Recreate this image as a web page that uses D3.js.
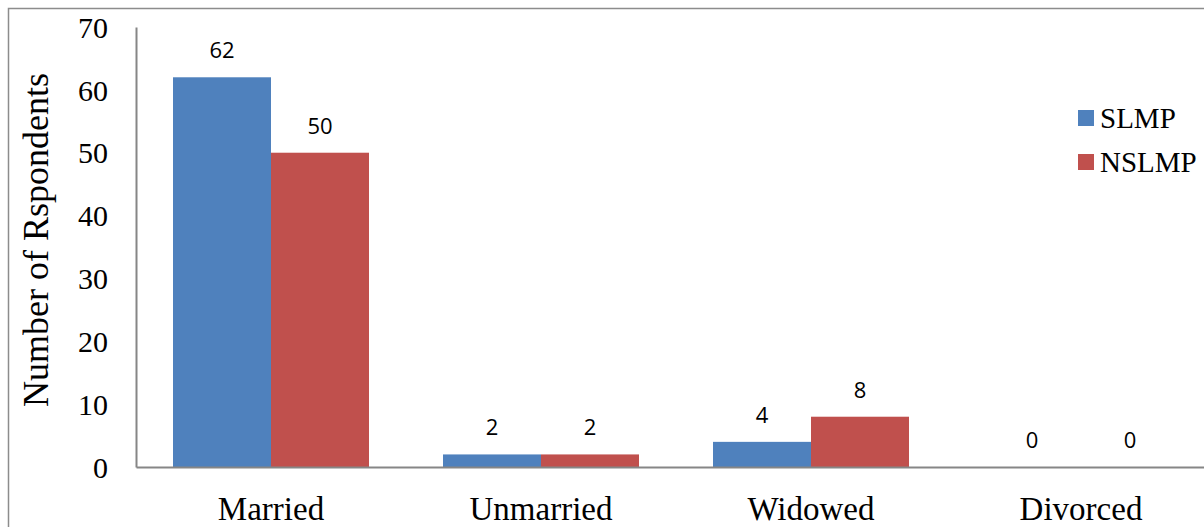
<!DOCTYPE html>
<html>
<head>
<meta charset="utf-8">
<script src="https://cdn.jsdelivr.net/npm/d3@7/dist/d3.min.js"></script>
<style>
  html, body { margin: 0; padding: 0; background: #fff; }
  svg { display: block; }
</style>
</head>
<body>
<svg id="chart" width="1204" height="527"></svg>
<script>
// Marital status of respondents, by group
const categories = ["Married", "Unmarried", "Widowed", "Divorced"];
const seriesNames = ["SLMP", "NSLMP"];
const slmpValues = [62, 2, 4, 0];
const nslmpValues = [50, 2, 8, 0];
const yTicks = [0, 10, 20, 30, 40, 50, 60, 70];
const seriesColors = ["#4F81BD", "#C0504D"];

const series = [slmpValues, nslmpValues];

const svg = d3.select("#chart");

const plot = { left: 136, right: 1216, top: 27, bottom: 467 };

// outer frame of the chart area
svg.append("rect")
  .attr("x", 8.5).attr("y", 8.5)
  .attr("width", 1240).attr("height", 560)
  .attr("fill", "none").attr("stroke", "#8c8c8c").attr("stroke-width", 1.5);

const x = d3.scaleBand().domain(categories).range([plot.left, plot.right]).padding(0);
const y = d3.scaleLinear().domain([0, 70]).range([plot.bottom, plot.top]);

const barW = x.bandwidth() * (98 / 270);
const groupOffset = (x.bandwidth() - barW * series.length) / 2;

// bars
series.forEach((vals, si) => {
  svg.append("g").selectAll("rect")
    .data(vals)
    .join("rect")
    .attr("x", (d, i) => x(categories[i]) + groupOffset + si * barW)
    .attr("y", d => y(d))
    .attr("width", barW)
    .attr("height", d => y(0) - y(d))
    .attr("fill", seriesColors[si]);
});

// value labels
series.forEach((vals, si) => {
  svg.append("g").selectAll("text")
    .data(vals)
    .join("text")
    .attr("x", (d, i) => x(categories[i]) + groupOffset + si * barW + barW / 2)
    .attr("y", d => y(d) - 19)
    .attr("text-anchor", "middle")
    .attr("font-family", "'Open Sans', 'Liberation Sans', sans-serif")
    .attr("font-size", 22)
    .attr("fill", "#000")
    .text(d => d);
});

// y axis
const yAxis = d3.axisLeft(y).tickValues(yTicks).tickSize(0).tickPadding(28);
const gy = svg.append("g").attr("transform", `translate(${plot.left},0)`).call(yAxis);
gy.select(".domain").attr("stroke", "#868686").attr("stroke-width", 2);
gy.selectAll("text")
  .attr("font-family", "'Liberation Serif', 'Times New Roman', serif")
  .attr("font-size", 30)
  .attr("fill", "#000")
  .attr("dy", "0.34em");

// x axis
const xAxis = d3.axisBottom(x).tickSize(0).tickPadding(30);
const gx = svg.append("g").attr("transform", `translate(0,${plot.bottom})`).call(xAxis);
gx.select(".domain").attr("stroke", "#868686").attr("stroke-width", 2);
gx.selectAll("text")
  .attr("font-family", "'Liberation Serif', 'Times New Roman', serif")
  .attr("font-size", 33)
  .attr("fill", "#000")
  .attr("dy", "0.71em");

// y axis title
svg.append("text")
  .attr("transform", `translate(48,240) rotate(-90)`)
  .attr("text-anchor", "middle")
  .attr("font-family", "'Liberation Serif', 'Times New Roman', serif")
  .attr("font-size", 36)
  .attr("fill", "#000")
  .text("Number of Rspondents");

// legend
const legend = svg.append("g").attr("transform", "translate(1078,110)");
seriesNames.forEach((name, i) => {
  const g = legend.append("g").attr("transform", `translate(0,${i * 44})`);
  g.append("rect").attr("width", 16).attr("height", 16).attr("fill", seriesColors[i]);
  g.append("text")
    .attr("x", 22).attr("y", 18)
    .attr("font-family", "'Liberation Serif', 'Times New Roman', serif")
    .attr("font-size", 29)
    .attr("fill", "#000")
    .text(name);
});
</script>
</body>
</html>
